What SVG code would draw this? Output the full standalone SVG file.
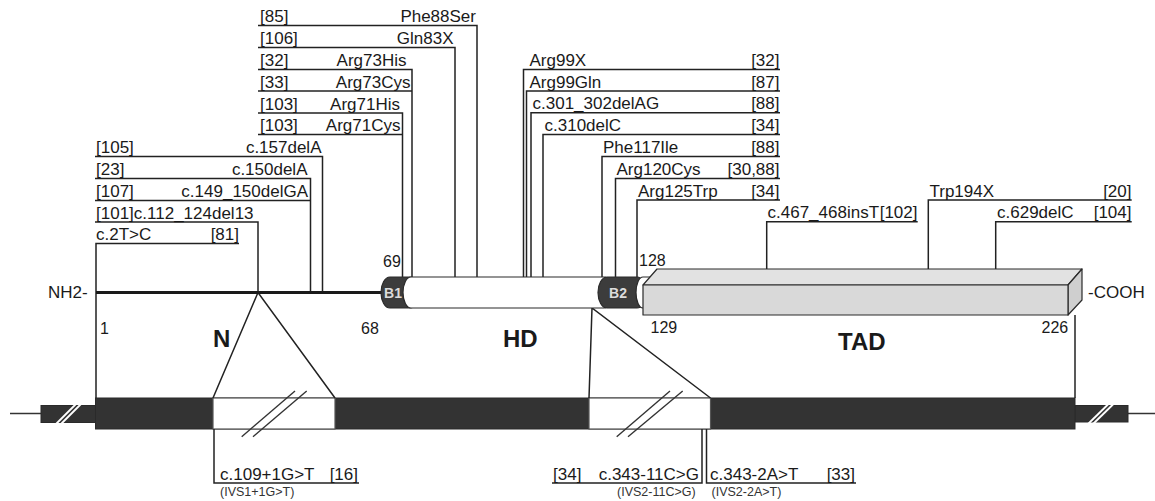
<svg xmlns="http://www.w3.org/2000/svg" width="1155" height="501" viewBox="0 0 1155 501">
<style>
.t{font-family:"Liberation Sans",Arial,sans-serif;font-size:17px;fill:#1a1a1a}
.e{text-anchor:end}
.n{font-size:16px}
.b{font-weight:bold;font-size:24px}
.s{font-size:12.5px;fill:#333}
.bx{font-family:"Liberation Sans",Arial,sans-serif;font-weight:bold;font-size:14px;fill:#dcdcdc;text-anchor:middle}
.ln{stroke:#222;stroke-width:1.5;fill:none}
.dk{fill:#333;stroke:#2a2a2a;stroke-width:1}
.cap{stroke:#2a2a2a;stroke-width:1.2}
.wsl{stroke:#fff;stroke-width:1.8}
.dsl{stroke:#333;stroke-width:1.4}
</style>
<rect width="1155" height="501" fill="#fff"/>

<!-- gene -->
<g id="gene">
  <line x1="10" y1="413.5" x2="41" y2="413.5" stroke="#333" stroke-width="1.5"/>
  <line x1="1128" y1="413.5" x2="1155" y2="413.5" stroke="#333" stroke-width="1.5"/>
  <rect class="dk" x="41" y="405.5" width="54.5" height="17"/>
  <rect class="dk" x="1075" y="405.5" width="53" height="16.5"/>
  <rect class="dk" x="95.5" y="398" width="979.5" height="31"/>
  <rect x="213" y="398" width="122" height="31" fill="#fff" stroke="#555" stroke-width="1.2"/>
  <rect x="589" y="398" width="121.5" height="31" fill="#fff" stroke="#555" stroke-width="1.2"/>
  <line class="wsl" x1="55" y1="425" x2="78" y2="402"/>
  <line class="wsl" x1="60" y1="425" x2="83" y2="402"/>
  <line class="wsl" x1="1087" y1="425" x2="1110" y2="402.5"/>
  <line class="wsl" x1="1092" y1="425" x2="1115" y2="402.5"/>
  <line class="dsl" x1="241.7" y1="436.7" x2="295" y2="391"/>
  <line class="dsl" x1="253" y1="436.7" x2="306.7" y2="391"/>
  <line class="dsl" x1="616.7" y1="436.7" x2="670" y2="391"/>
  <line class="dsl" x1="628" y1="436.7" x2="682.7" y2="391"/>
</g>

<!-- connectors -->
<g id="connectors" class="ln">
  <!-- N region -->
  <polyline points="95,156.5 322.5,156.5 322.5,292"/>
  <polyline points="95,178.5 310.5,178.5 310.5,292"/>
  <polyline points="95,200.5 310.5,200.5"/>
  <polyline points="95,222 258,222 258,292"/>
  <polyline points="239,243.5 96,243.5 96,398"/>
  <!-- HD left -->
  <polyline points="258,25.5 477,25.5 477,277"/>
  <polyline points="258,47.5 455,47.5 455,277"/>
  <polyline points="258,69.5 412,69.5 412,277"/>
  <polyline points="258,91 412,91"/>
  <polyline points="258,113 402.5,113 402.5,277"/>
  <polyline points="258,134.5 402.5,134.5"/>
  <!-- HD right -->
  <polyline points="780,69.5 523.5,69.5 523.5,277"/>
  <polyline points="780,91 526.5,91 526.5,277"/>
  <polyline points="780,112.7 531,112.7 531,277"/>
  <polyline points="780,134.5 543,134.5 543,277"/>
  <polyline points="780,156.5 602,156.5 602,277"/>
  <polyline points="780,178.5 615.5,178.5 615.5,277"/>
  <polyline points="780,200 637,200 637,277"/>
  <!-- TAD -->
  <polyline points="917.7,221.7 766.7,221.7 766.7,276"/>
  <polyline points="1131.7,200 928.3,200 928.3,276"/>
  <polyline points="1131.7,221.7 995.7,221.7 995.7,276"/>
  <!-- domain to gene -->
  <line x1="1075" y1="315" x2="1075" y2="398"/>
  <polyline points="213,398 258,292.5 335,398"/>
  <polyline points="589,398 592,308 710.5,398"/>
  <!-- splice -->
  <polyline points="214,429 214,483 359,483"/>
  <polyline points="702,429 702,483 552,483"/>
  <polyline points="706.5,429 706.5,483 856,483"/>
</g>

<!-- protein -->
<g id="protein">
  <line x1="96" y1="292.5" x2="388" y2="292.5" stroke="#1a1a1a" stroke-width="3"/>
  <rect class="cap" x="381" y="277" width="38" height="31" rx="9" ry="15.5" fill="#3c3c3c"/>
  <rect class="cap" x="403" y="277" width="209" height="31" rx="8" ry="15.5" fill="#fff"/>
  <rect class="cap" x="598" y="277" width="48" height="31" rx="9" ry="15.5" fill="#3c3c3c"/>
  <rect class="cap" x="636" y="277" width="30" height="31" rx="7" ry="15.5" fill="#fff"/>
  <g id="tad" stroke="#2a2a2a" stroke-width="1.2" stroke-linejoin="round">
    <polygon points="643,285 657,269 1082,269 1068,285" fill="#e2e2e2"/>
    <polygon points="1068,285 1082,269 1082,300 1068,315" fill="#cfcfcf"/>
    <rect x="643" y="285" width="425" height="30" fill="#d9d9d9"/>
  </g>
  <text class="bx" x="393" y="297.5">B1</text>
  <text class="bx" x="618" y="297.5">B2</text>
</g>

<g id="protein-labels" class="t">
  <text x="48" y="298">NH2-</text>
  <text x="1088" y="298">-COOH</text>
  <text class="n" x="100" y="334">1</text>
  <text class="n" x="361" y="334">68</text>
  <text class="n" x="383" y="266.5">69</text>
  <text class="n" x="639" y="266">128</text>
  <text class="n" x="650.5" y="333">129</text>
  <text class="n" x="1041.5" y="333">226</text>
  <text class="b" x="213" y="346.5">N</text>
  <text class="b" x="503" y="346.5">HD</text>
  <text class="b" x="838" y="350">TAD</text>
</g>

<!-- N-region mutations -->
<g id="m-c157delA" class="t"><text x="96" y="153">[105]</text><text class="e" x="321.5" y="153">c.157delA</text></g>
<g id="m-c150delA" class="t"><text x="96" y="175">[23]</text><text class="e" x="307.5" y="175">c.150delA</text></g>
<g id="m-c149_150delGA" class="t"><text x="96" y="197">[107]</text><text class="e" x="308" y="197">c.149_150delGA</text></g>
<g id="m-c112_124del13" class="t"><text x="96" y="218.5">[101]c.112_124del13</text></g>
<g id="m-c2TC" class="t"><text x="96" y="240">c.2T&gt;C</text><text class="e" x="239" y="240">[81]</text></g>

<!-- HD left mutations -->
<g id="m-Phe88Ser" class="t"><text x="260" y="22">[85]</text><text class="e" x="476" y="22">Phe88Ser</text></g>
<g id="m-Gln83X" class="t"><text x="260" y="44">[106]</text><text class="e" x="453.5" y="44">Gln83X</text></g>
<g id="m-Arg73His" class="t"><text x="260" y="66">[32]</text><text class="e" x="406.5" y="66">Arg73His</text></g>
<g id="m-Arg73Cys" class="t"><text x="260" y="87.5">[33]</text><text class="e" x="410.5" y="87.5">Arg73Cys</text></g>
<g id="m-Arg71His" class="t"><text x="260" y="109.5">[103]</text><text class="e" x="400" y="109.5">Arg71His</text></g>
<g id="m-Arg71Cys" class="t"><text x="260" y="131">[103]</text><text class="e" x="400.5" y="131">Arg71Cys</text></g>

<!-- HD right mutations -->
<g id="m-Arg99X" class="t"><text x="529.5" y="66">Arg99X</text><text class="e" x="779.5" y="66">[32]</text></g>
<g id="m-Arg99Gln" class="t"><text x="529.5" y="87.5">Arg99Gln</text><text class="e" x="779.5" y="87.5">[87]</text></g>
<g id="m-c301_302delAG" class="t"><text x="532.5" y="109.2">c.301_302delAG</text><text class="e" x="779.5" y="109.2">[88]</text></g>
<g id="m-c310delC" class="t"><text x="544.5" y="131">c.310delC</text><text class="e" x="779.5" y="131">[34]</text></g>
<g id="m-Phe117Ile" class="t"><text x="603" y="153">Phe117Ile</text><text class="e" x="779.5" y="153">[88]</text></g>
<g id="m-Arg120Cys" class="t"><text x="616.5" y="175">Arg120Cys</text><text class="e" x="779.5" y="175">[30,88]</text></g>
<g id="m-Arg125Trp" class="t"><text x="638" y="196.5">Arg125Trp</text><text class="e" x="779.5" y="196.5">[34]</text></g>

<!-- TAD mutations -->
<g id="m-c467_468insT" class="t"><text x="767.5" y="218.2">c.467_468insT</text><text class="e" x="917.5" y="218.2">[102]</text></g>
<g id="m-Trp194X" class="t"><text x="929.5" y="196.5">Trp194X</text><text class="e" x="1131.5" y="196.5">[20]</text></g>
<g id="m-c629delC" class="t"><text x="997" y="218.2">c.629delC</text><text class="e" x="1131.5" y="218.2">[104]</text></g>

<!-- splice mutations -->
<g id="m-c109" class="t"><text x="220" y="479.5">c.109+1G&gt;T</text><text class="e" x="358" y="479.5">[16]</text><text class="s" x="220" y="496">(IVS1+1G&gt;T)</text></g>
<g id="m-c343-11" class="t"><text x="553" y="479.5">[34]</text><text class="e" x="699" y="479.5">c.343-11C&gt;G</text><text class="s" x="617" y="496">(IVS2-11C&gt;G)</text></g>
<g id="m-c343-2" class="t"><text x="710" y="479.5">c.343-2A&gt;T</text><text class="e" x="855" y="479.5">[33]</text><text class="s" x="711.5" y="496">(IVS2-2A&gt;T)</text></g>
</svg>
